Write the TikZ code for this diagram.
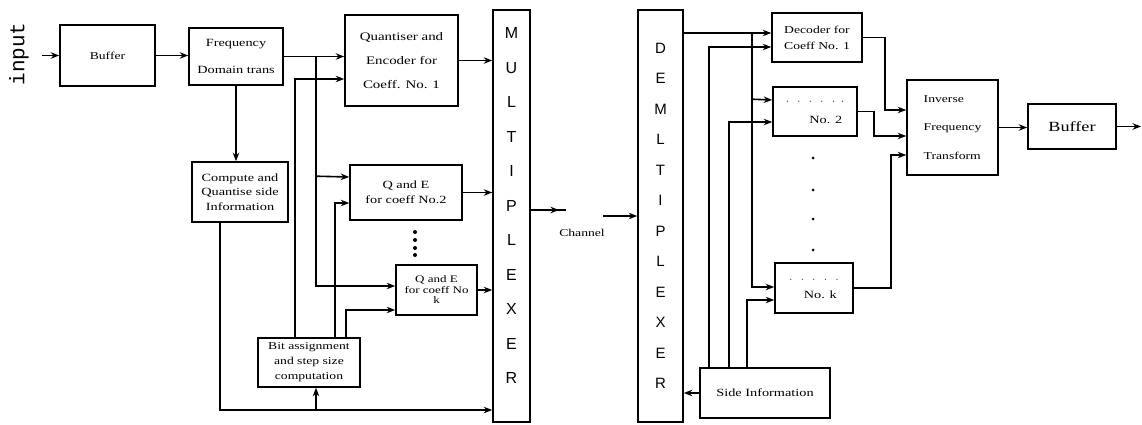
\documentclass[tikz,border=0pt]{standalone}
\usepackage{fontspec}
\setmainfont{Liberation Serif}[FakeStretch=1.3]
\newfontfamily\lsans{Liberation Sans}
\newfontfamily\lmono{Liberation Mono}
\usetikzlibrary{arrows.meta,calc}
\begin{document}
\begin{tikzpicture}[x=1pt,y=-1pt, line width=1.6pt,
  box/.style={draw, line width=1.6pt, inner sep=0pt, align=center},
  lbl/.style={inner sep=0pt, align=center},
  arr/.style={-{Stealth[length=8.5pt,width=6.5pt]}}]
\useasboundingbox (0,0) rectangle (1142,425);

% ---------- encoder side ----------
\node[lbl, rotate=90, font=\lmono\fontsize{21}{21}\selectfont] (inlbl) at (19,54) {input};
\coordinate (inp) at (42,55.5);

\node[box, minimum width=95pt, minimum height=61pt, font=\fontsize{10.5}{11}\selectfont] (buf1) at (107.5,55.5) {Buffer};
\node[box, minimum width=94pt, minimum height=57pt, font=\fontsize{11}{27}\selectfont] (fdt) at (236,56.5) {Frequency\\Domain trans};
\node[box, minimum width=96pt, minimum height=60pt, font=\fontsize{11}{14.5}\selectfont] (cqsi) at (240,192) {Compute and\\Quantise side\\Information};
\node[box, minimum width=113pt, minimum height=91pt, font=\fontsize{11.5}{24}\selectfont] (qe1) at (401.5,60.5) {Quantiser and\\Encoder for\\Coeff. No. 1};
\node[box, minimum width=112pt, minimum height=55pt, font=\fontsize{11}{15}\selectfont] (qe2) at (406,192.5) {Q and E\\for coeff No.2};
\node[box, minimum width=81pt, minimum height=50pt, font=\fontsize{10}{10.5}\selectfont] (qek) at (436.5,290) {Q and E\\for coeff No\\k};
\node[box, minimum width=102pt, minimum height=49pt, font=\fontsize{10.5}{15}\selectfont] (bit) at (309,362.5) {Bit assignment\\and step size\\computation};
\node[box, minimum width=37pt, minimum height=412pt] (mux) at (511.5,216) {};
\node[lbl, font=\lsans\fontsize{16}{34.5}\selectfont] (muxtxt) at (511.5,205.5) {M\\U\\L\\T\\I\\P\\L\\E\\X\\E\\R};

\draw[arr] (inp) -- (buf1.west);
\draw[arr] (buf1.east) -- (buf1.east -| fdt.west);
\draw[arr] (fdt.east) -- (fdt.east -| qe1.west);
\draw[arr] (fdt.south) -- (fdt.south |- cqsi.north);

\coordinate (j1) at (316,56.5);
\draw[arr] (j1) |- ($(qek.west)+(0,-4)$);
\draw[arr] (j1 |- qe2.north) ++(0,12) -- ($(qe2.west)+(0,-15.5)$);

\draw[arr] ($(bit.north west)+(38,0)$) |- ($(qe1.west)+(0,18.5)$);
\draw[arr] ($(bit.north west)+(78,0)$) |- ($(qe2.west)+(0,10.5)$);
\draw[arr] ($(bit.north west)+(89,0)$) |- ($(qek.west)+(0,20)$);

\draw[arr] ($(cqsi.south)+(-20,0)$) |- ($(mux.west)+(0,194)$);
\draw[arr] ($(bit.south)+(7,22)$) -- ($(bit.south)+(7,0)$);

\draw[arr] (qe1.east) -- (qe1.east -| mux.west);
\draw[arr] (qe2.east) -- (qe2.east -| mux.west);
\draw[arr] (qek.east) -- (qek.east -| mux.west);

\foreach \yy in {232,240,248,255} \fill (415,\yy) circle (2);

\coordinate (muxout) at (566,210);
\draw[arr] ($(mux.east)+(0,-6)$) -- (559,210);
\draw (557,210) -- (muxout);

% ---------- decoder side ----------
\node[box, minimum width=45pt, minimum height=412pt, font=\lsans\fontsize{15}{30.5}\selectfont] (demux) at (660.5,216) {D\\E\\M\\L\\T\\I\\P\\L\\E\\X\\E\\R};
\coordinate (chin) at (603,216);
\draw[arr] (chin) -- (demux.west);
\node[lbl, font=\fontsize{10.5}{11}\selectfont] (chl) at (582,233) {Channel};

\node[box, minimum width=90pt, minimum height=49pt, font=\fontsize{10.5}{16}\selectfont] (dec1) at (817,37.5) {Decoder for\\Coeff No. 1};
\node[box, minimum width=84pt, minimum height=49pt, align=right, font=\fontsize{11}{19}\selectfont] (dec2) at (815,111.5) {$\cdot\;\;\cdot\;\;\cdot\;\;\cdot\;\;\cdot\;\;\cdot$\\No. 2\,};
\node[box, minimum width=78pt, minimum height=50pt, align=right, font=\fontsize{11}{16}\selectfont] (deck) at (814,288) {$\cdot\;\;\cdot\;\;\cdot\;\;\cdot\;\;\cdot$\\No. k\,};
\node[box, minimum width=130pt, minimum height=50pt, font=\fontsize{11}{12}\selectfont] (side) at (765,393) {Side Information};
\node[box, minimum width=91pt, minimum height=95pt, align=left, font=\fontsize{10.5}{28.5}\selectfont] (ift) at (952.5,127.5) {Inverse\\Frequency\\Transform};
\node[box, minimum width=88pt, minimum height=45pt, font=\fontsize{14}{14}\selectfont] (buf2) at (1072,126.5) {Buffer};
\coordinate (outp) at (1141,126.5);

\foreach \yy in {158,190,219,250} \fill (813,\yy) circle (1.5);

\coordinate (jd) at (752,33);
\draw[arr] ($(demux.east)+(0,-183)$) -- ($(dec1.west)+(0,-4.5)$);
\draw[arr] (jd) |- ($(deck.west)+(0,-1)$);
\draw[arr] (jd |- dec2.north) ++(0,13) -- ($(dec2.west)+(0,-11.5)$);

\draw[arr] ($(side.north)+(-56,0)$) |- ($(dec1.west)+(0,9.5)$);
\draw[arr] ($(side.north)+(-36,0)$) |- ($(dec2.west)+(0,10.5)$);
\draw[arr] ($(side.north)+(-18,0)$) |- ($(deck.west)+(0,12)$);
\draw[arr] (side.west) -- (side.west -| demux.east);

\draw[arr] (dec1.east) -- ++(22,0) |- ($(ift.west)+(0,-17.5)$);
\draw[arr] (dec2.east) -- ++(16,0) |- ($(ift.west)+(0,8.5)$);
\draw[arr] (deck.east) -- ++(37,0) |- ($(ift.west)+(0,27.5)$);

\draw[arr] (ift.east) -- (ift.east -| buf2.west);
\draw[arr] (buf2.east) -- (outp);
\end{tikzpicture}
\end{document}
